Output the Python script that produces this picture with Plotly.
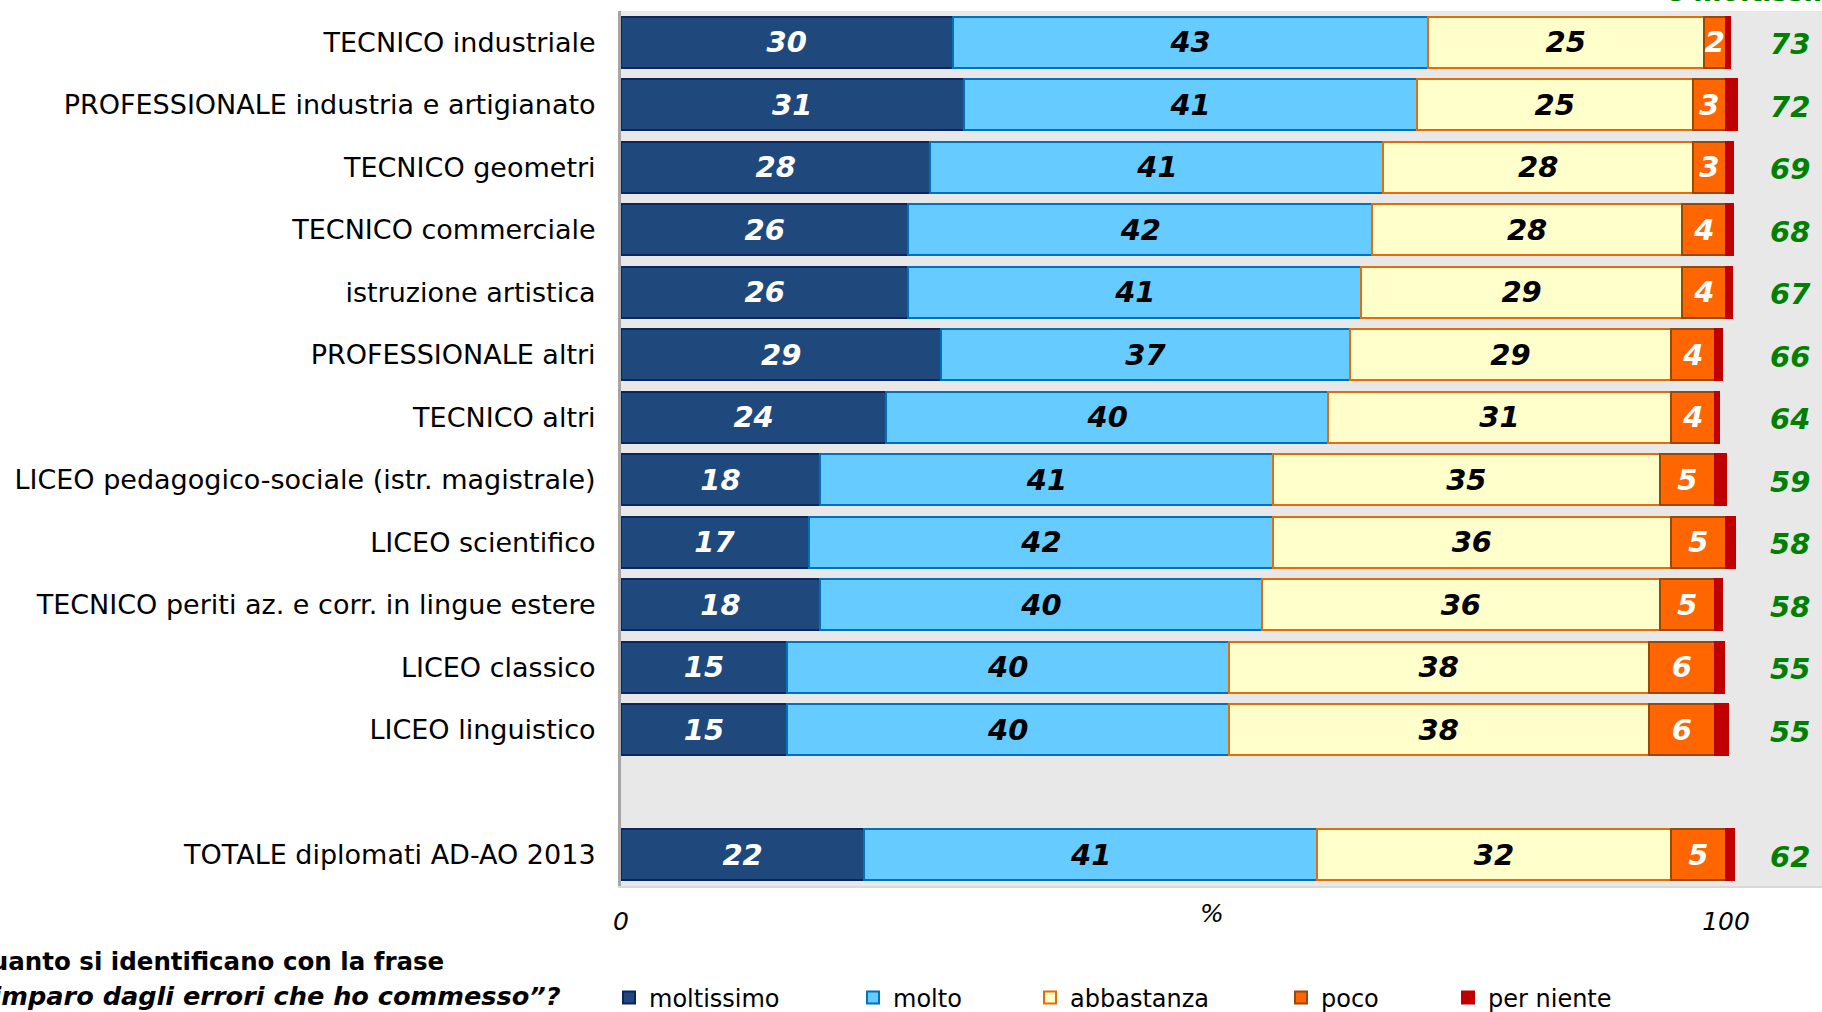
import plotly.graph_objects as go

# Survey rows (top to bottom); the last row is the overall total
schools = [
    "TECNICO industriale",
    "PROFESSIONALE industria e artigianato",
    "TECNICO geometri",
    "TECNICO commerciale",
    "istruzione artistica",
    "PROFESSIONALE altri",
    "TECNICO altri",
    "LICEO pedagogico-sociale (istr. magistrale)",
    "LICEO scientifico",
    "TECNICO periti az. e corr. in lingue estere",
    "LICEO classico",
    "LICEO linguistico",
    "TOTALE diplomati AD-AO 2013",
]

moltissimo = [30, 31, 28, 26, 26, 29, 24, 18, 17, 18, 15, 15, 22]
molto = [43, 41, 41, 42, 41, 37, 40, 41, 42, 40, 40, 40, 41]
abbastanza = [25, 25, 28, 28, 29, 29, 31, 35, 36, 36, 38, 38, 32]
poco = [2, 3, 3, 4, 4, 4, 4, 5, 5, 5, 6, 6, 5]
per_niente = [0.4, 1.0, 0.6, 0.6, 0.5, 0.6, 0.4, 1.0, 0.8, 0.6, 0.8, 1.2, 0.7]
molto_e_moltissimo = [73, 72, 69, 68, 67, 66, 64, 59, 58, 58, 55, 55, 62]

x_ticks = [0, 100]
x_ticklabels = ["0", "100"]

# Rows sit on consecutive slots; the total row is pushed one slot further down
row_pos = list(range(len(schools) - 1)) + [len(schools)]
n_slots = len(schools) + 1

FONT = "DejaVu Sans, Verdana, sans-serif"

# Figure and plot area geometry in pixels
W_FIG, H_FIG = 1822, 1012
L, R, T, B = 621, 0, 11, 126
PW = W_FIG - L - R
PH = H_FIG - T - B


def px_x(px):
    return (px - L) / PW


def px_y(py):
    return (H_FIG - B - py) / PH


def cx(px):
    return px / W_FIG


def cy(py):
    return 1 - py / H_FIG


series = [
    ("moltissimo", moltissimo, "#1F497D", "#0B2560", "white", True),
    ("molto", molto, "#66CCFF", "#0070C0", "black", True),
    ("abbastanza", abbastanza, "#FFFFCC", "#E46C0A", "black", True),
    ("poco", poco, "#FF6600", "#984807", "white", True),
    ("per niente", per_niente, "#C00000", "#C00000", "white", False),
]

legend_px = [609, 853, 1030, 1281, 1448]
legend_keys = ["legend", "legend2", "legend3", "legend4", "legend5"]

fig = go.Figure()

for (name, vals, fill, edge, tcolor, labelled), lg in zip(series, legend_keys):
    fig.add_trace(go.Bar(
        orientation="h",
        y=row_pos,
        x=vals,
        name=name,
        legend=lg,
        marker=dict(color=fill, line=dict(color=edge, width=2)),
        text=[str(v) for v in vals] if labelled else None,
        textposition="inside" if labelled else "none",
        insidetextanchor="middle",
        textangle=0,
        textfont=dict(family=FONT, size=29, color=tcolor,
                      weight="bold", style="italic"),
        hoverinfo="skip",
    ))

# Green column: share answering "molto" or "moltissimo"
green_col_x = 105.8
for yp, v in zip(row_pos, molto_e_moltissimo):
    fig.add_annotation(
        x=green_col_x, y=yp, xref="x", yref="y",
        text=str(v), showarrow=False, yshift=-2,
        xanchor="center", yanchor="middle",
        font=dict(family=FONT, size=29, color="#008000",
                  weight="bold", style="italic"),
    )

layout_legends = {}
for key, lx in zip(legend_keys, legend_px):
    layout_legends[key] = dict(
        xref="container", yref="container",
        x=cx(lx), y=cy(998), xanchor="left", yanchor="middle",
        orientation="h", bgcolor="rgba(0,0,0,0)",
        font=dict(family=FONT, size=24, color="black"),
        itemclick=False, itemdoubleclick=False,
    )

x_max = PW / 11.05  # 11.05 px per percentage point

fig.update_layout(
    width=W_FIG,
    height=H_FIG,
    margin=dict(l=L, r=R, t=T, b=B, pad=0, autoexpand=False),
    paper_bgcolor="white",
    plot_bgcolor="#E8E8E8",
    barmode="stack",
    bargap=0.18,
    uniformtext=dict(minsize=29, mode="show"),
    showlegend=True,
    font=dict(family=FONT, color="black"),
    xaxis=dict(
        range=[0, x_max],
        tickvals=x_ticks,
        ticktext=x_ticklabels,
        tickfont=dict(family=FONT, size=25, color="black", style="italic"),
        ticks="",
        ticklabelstandoff=12,
        showgrid=False,
        zeroline=False,
        showline=True,
        linecolor="#D9D9D9",
        linewidth=2,
        fixedrange=True,
    ),
    yaxis=dict(
        range=[n_slots - 0.5, -0.5],
        tickvals=row_pos,
        ticktext=schools,
        tickfont=dict(family=FONT, size=27, color="black"),
        ticks="",
        ticklabelstandoff=17,
        showgrid=False,
        zeroline=False,
        showline=True,
        linecolor="#A6A6A6",
        linewidth=3,
        fixedrange=True,
    ),
    **layout_legends,
)

fig.add_annotation(
    text="%", xref="paper", yref="paper",
    x=px_x(1212), y=px_y(913), xanchor="center", yanchor="middle",
    showarrow=False,
    font=dict(family=FONT, size=25, color="black", style="italic"),
)

fig.add_annotation(
    text="Quanto si identificano con la frase",
    xref="paper", yref="paper",
    x=px_x(446), y=px_y(962), xanchor="right", yanchor="middle",
    showarrow=False,
    font=dict(family=FONT, size=24.5, color="black", weight="bold"),
)
fig.add_annotation(
    text="\u201cimparo dagli errori che ho commesso\u201d?",
    xref="paper", yref="paper",
    x=px_x(563), y=px_y(996), xanchor="right", yanchor="middle",
    showarrow=False,
    font=dict(family=FONT, size=25.6, color="black", weight="bold",
              style="italic"),
)

# Header of the green column, sitting at the very top edge of the page
fig.add_annotation(
    text="e moltissimo",
    xref="paper", yref="paper",
    x=px_x(1665), y=px_y(9), xanchor="left", yanchor="bottom",
    showarrow=False,
    font=dict(family=FONT, size=27, color="#008000", weight="bold",
              style="italic"),
)

fig.write_html("out.html", config={"displayModeBar": False})
